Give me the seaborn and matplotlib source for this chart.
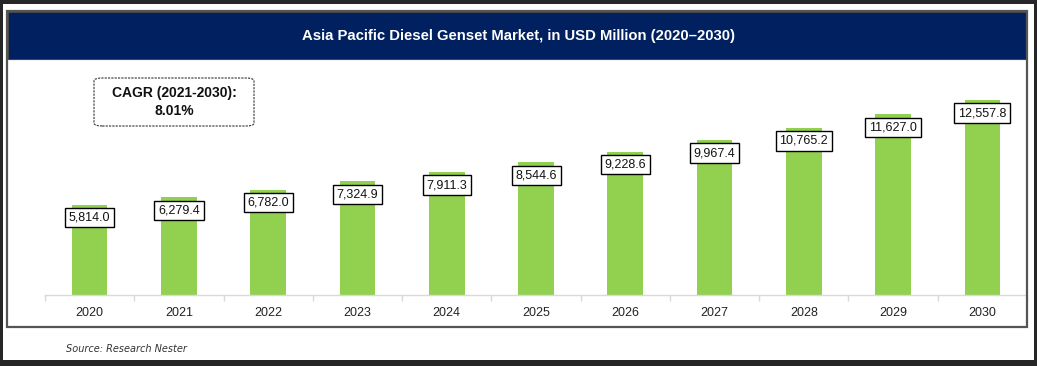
import matplotlib
matplotlib.use("Agg")
import matplotlib.pyplot as plt
from matplotlib.patches import Rectangle, FancyBboxPatch
import seaborn as sns
import pandas as pd

years = ["2020", "2021", "2022", "2023", "2024", "2025", "2026", "2027", "2028", "2029", "2030"]
values = [5814.0, 6279.4, 6782.0, 7324.9, 7911.3, 8544.6, 9228.6, 9967.4, 10765.2, 11627.0, 12557.8]
title = "Asia Pacific Diesel Genset Market, in USD Million (2020\u20132030)"
cagr_text = "CAGR (2021-2030):\n8.01%"
source_text = "Source: Research Nester"

W, H = 1037, 366
sns.set_theme(style="white")
plt.rcParams['font.family'] = ['Liberation Sans', 'DejaVu Sans']

fig = plt.figure(figsize=(W / 100, H / 100), dpi=100)
fig.patch.set_facecolor("#262626")

def fx(px):
    return px / W

def fy(py):
    return 1 - py / H

# white page
fig.add_artist(Rectangle((fx(3), fy(360)), fx(1034) - fx(3), fy(4) - fy(360),
                         transform=fig.transFigure, facecolor="white", edgecolor="none", zorder=0))
# inner border box
fig.add_artist(Rectangle((fx(7), fy(327)), fx(1027) - fx(7), fy(11) - fy(327),
                         transform=fig.transFigure, facecolor="none", edgecolor="#555555", lw=1.6, zorder=5))
# title banner
fig.add_artist(Rectangle((fx(8), fy(59)), fx(1026) - fx(8), fy(12) - fy(59),
                         transform=fig.transFigure, facecolor="#002060", edgecolor="#444444", lw=0.8, zorder=4))
fig.text(fx(518), fy(36), title, color="white", fontsize=10.7, fontweight="bold",
         ha="center", va="center", zorder=6)

# axes
ax_left, ax_right = 45, 1027
ax_bottom = 295
ymax = 14000
scale = 195.0 / 12557.8
ax_top = ax_bottom - ymax * scale
ax = fig.add_axes([fx(ax_left), fy(ax_bottom), fx(ax_right) - fx(ax_left), fy(ax_top) - fy(ax_bottom)])
ax.set_facecolor("none")

df = pd.DataFrame({"year": years, "value": values})
sns.barplot(data=df, x="year", y="value", color="#92d050", width=0.4, ax=ax,
            saturation=1, edgecolor="none")
ax.set_xlim(-0.5, len(years) - 0.5)
ax.set_ylim(0, ymax)
ax.set_xlabel("")
ax.set_ylabel("")
ax.set_yticks([])
for s in ["top", "left", "right"]:
    ax.spines[s].set_visible(False)
ax.spines["bottom"].set_color("#d9d9d9")
ax.spines["bottom"].set_linewidth(1.0)
ax.tick_params(axis="x", which="major", length=0, labelsize=9, colors="#222222", pad=9)
ax.set_xticks([i - 0.5 for i in range(len(years) + 1)], minor=True)
ax.tick_params(axis="x", which="minor", length=4, color="#d9d9d9", width=1, bottom=True)

label_offset = 13 / scale
for i, v in enumerate(values):
    ax.text(i, v - label_offset, f"{v:,.1f}", ha="center", va="center", fontsize=9, color="#111111",
            bbox=dict(boxstyle="square,pad=0.3", facecolor="white", edgecolor="black", lw=1.0), zorder=5)

# CAGR box
fig.add_artist(FancyBboxPatch((fx(94), fy(126)), fx(254) - fx(94), fy(78) - fy(126),
                              boxstyle="round,pad=0,rounding_size=0.008", transform=fig.transFigure,
                              facecolor="white", edgecolor="#333333", lw=0.8, linestyle=(0, (2, 1)), zorder=6))
fig.text(fx(174), fy(102), cagr_text, ha="center", va="center", fontsize=10, fontweight="bold",
         color="#111111", linespacing=1.4, zorder=7)

fig.text(fx(66), fy(349), source_text, ha="left", va="center", fontsize=7, style="italic",
         color="#333333", family=["DejaVu Sans"], zorder=6)

fig.savefig("out.png", dpi=100, facecolor=fig.get_facecolor())
